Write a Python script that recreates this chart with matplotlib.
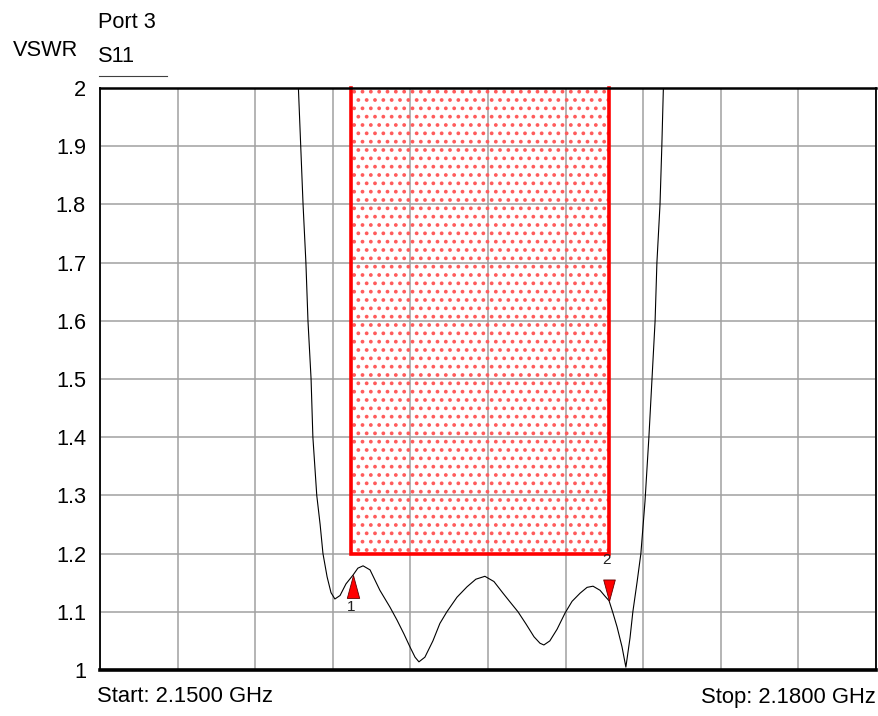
import matplotlib
matplotlib.use("Agg")
import matplotlib.pyplot as plt
from matplotlib.path import Path
from matplotlib.patches import Rectangle
import numpy as np

plt.rcParams['font.family'] = ['Liberation Sans', 'DejaVu Sans']
plt.rcParams['hatch.linewidth'] = 1.5

# S11 VSWR trace (frequency in GHz, VSWR)
freq = [2.15760, 2.15767, 2.15776, 2.15785, 2.15796, 2.15804, 2.15816, 2.15823, 2.15838,
        2.15851, 2.15862, 2.15878, 2.15893, 2.15908, 2.15928, 2.15951, 2.15978, 2.15997,
        2.16017, 2.16044, 2.16082, 2.16121, 2.16148, 2.16175, 2.16198, 2.16218, 2.16233,
        2.16256, 2.16287, 2.16314, 2.16341, 2.16380, 2.16419, 2.16453, 2.16488, 2.16523,
        2.16558, 2.16585, 2.16616, 2.16647, 2.16678, 2.16701, 2.16716, 2.16739, 2.16767,
        2.16798, 2.16825, 2.16856, 2.16883, 2.16906, 2.16933, 2.16952, 2.16968, 2.16983,
        2.16999, 2.17018, 2.17033, 2.17049, 2.17060, 2.17076, 2.17091, 2.17107, 2.17122,
        2.17134, 2.17146, 2.17153, 2.17165, 2.17172, 2.17178, 2.17183]
vswr = [2.08, 2.00, 1.90, 1.80, 1.70, 1.60, 1.50, 1.40, 1.30,
        1.25, 1.20, 1.16, 1.133, 1.122, 1.128, 1.148, 1.163, 1.175,
        1.179, 1.172, 1.137, 1.108, 1.086, 1.062, 1.040, 1.022, 1.014,
        1.022, 1.050, 1.080, 1.100, 1.125, 1.143, 1.156, 1.161, 1.152,
        1.132, 1.117, 1.100, 1.079, 1.057, 1.046, 1.043, 1.050, 1.070,
        1.098, 1.118, 1.132, 1.142, 1.144, 1.137, 1.127, 1.119, 1.098,
        1.074, 1.040, 1.005, 1.055, 1.100, 1.150, 1.200, 1.290, 1.40,
        1.50, 1.60, 1.70, 1.80, 1.90, 2.00, 2.08]

# Limit mask (GHz, VSWR)
mask_f = [2.15970, 2.16968]
mask_v = [1.2, 2.0]

# Markers
marker_f = [2.15978, 2.16968]
marker_v = [1.163, 1.119]
marker_lbl = ["1", "2"]

f_start, f_stop = 2.15, 2.18
y_ticks = [1, 1.1, 1.2, 1.3, 1.4, 1.5, 1.6, 1.7, 1.8, 1.9, 2]
y_tick_labels = ["1", "1.1", "1.2", "1.3", "1.4", "1.5", "1.6", "1.7", "1.8", "1.9", "2"]

fig = plt.figure(figsize=(8.79, 7.16), dpi=100)
ax = fig.add_axes([100/879, 1-670/716, 776/879, 582/716])
ax.set_xlim(f_start, f_stop)
ax.set_ylim(1, 2)

ax.set_xticks(np.linspace(f_start, f_stop, 11))
ax.set_xticklabels([])
ax.set_yticks(y_ticks)
ax.set_yticklabels(y_tick_labels, fontsize=15.7)
ax.tick_params(length=0, pad=10)
ax.grid(True, color='#a0a0a0', lw=1.1)
ax.set_axisbelow(True)

for s in ['top', 'left', 'right']:
    ax.spines[s].set_linewidth(1.3)
    ax.spines[s].set_color('black')
ax.spines['top'].set_linewidth(1.8)
ax.spines['bottom'].set_linewidth(2.6)
ax.spines['top'].set_zorder(6)

# mask fill with dot pattern
rect = Rectangle((mask_f[0], mask_v[0]), mask_f[1]-mask_f[0], mask_v[1]-mask_v[0],
                 facecolor='none', edgecolor='#ff5c5c', hatch='..', lw=0, zorder=2)
ax.add_patch(rect)
ax.plot([mask_f[0], mask_f[0], mask_f[1], mask_f[1]],
        [mask_v[1], mask_v[0], mask_v[0], mask_v[1]],
        color='red', lw=2.6, zorder=3, solid_joinstyle='miter', clip_on=False)

# trace
ax.plot(freq, vswr, color='black', lw=0.8, zorder=4, solid_joinstyle='round')

# markers: tip at data point
up = Path([(0, 0), (-0.27, -1), (0.27, -1), (0, 0)],
          [Path.MOVETO, Path.LINETO, Path.LINETO, Path.CLOSEPOLY])
down = Path([(0, 0), (-0.27, 1), (0.27, 1), (0, 0)],
            [Path.MOVETO, Path.LINETO, Path.LINETO, Path.CLOSEPOLY])
ax.plot([marker_f[0]], [marker_v[0]], marker=up, markersize=33, color='red',
        markeredgecolor='#600000', markeredgewidth=0.6, zorder=5, linestyle='none')
ax.plot([marker_f[1]], [marker_v[1]], marker=down, markersize=31, color='red',
        markeredgecolor='#600000', markeredgewidth=0.6, zorder=5, linestyle='none')
ax.annotate(marker_lbl[0], (marker_f[0], marker_v[0]), xytext=(-1, -23),
            textcoords='offset points', ha='center', va='center', fontsize=11, color='#202020')
ax.annotate(marker_lbl[1], (marker_f[1], marker_v[1]), xytext=(-2, 29),
            textcoords='offset points', ha='center', va='center', fontsize=11, color='#202020')

# texts
fig.text(13/879, 1-50/716, "VSWR", fontsize=15.7, ha='left', va='center')
fig.text(98/879, 1-23/716, "Port 3", fontsize=15.7, ha='left', va='center')
fig.text(98/879, 1-56/716, "S11", fontsize=15.7, ha='left', va='center')
fig.add_artist(plt.Line2D([99/879, 167/879], [1-76/716, 1-76/716], color='#404040', lw=0.8))
fig.text(97/879, 1-697/716, "Start: 2.1500 GHz", fontsize=15.8, ha='left', va='center')
fig.text(876/879, 1-697/716, "Stop: 2.1800 GHz", fontsize=15.8, ha='right', va='center')

fig.savefig("out.png", dpi=100)
